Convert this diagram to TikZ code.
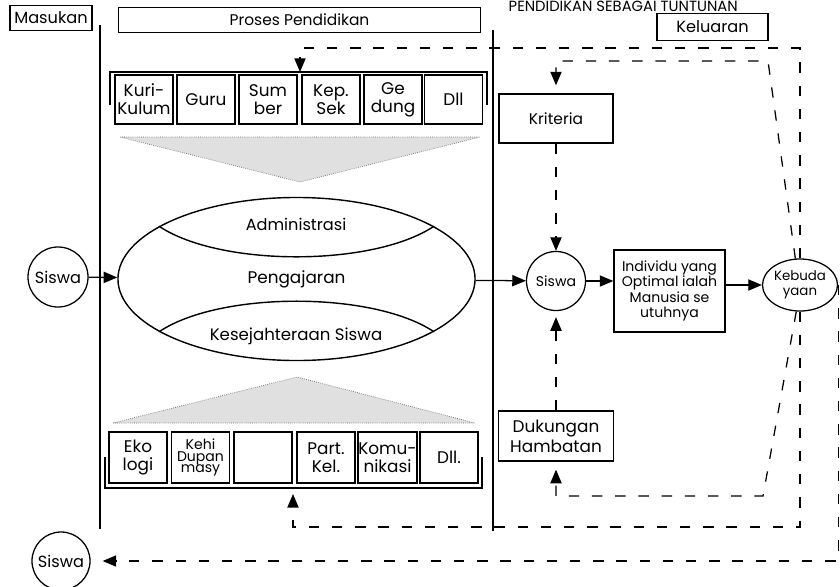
\documentclass[tikz,border=0pt]{standalone}
\usepackage{fontspec}
\setmainfont{Poppins}
\usetikzlibrary{arrows.meta,shapes.geometric}
\def\fs#1#2{\fontsize{#1}{#2}\selectfont}
\def\dsh{\draw[dsh,arr]}

\begin{document}
\begin{tikzpicture}[x=0.025cm,y=-0.025cm,
  kotak/.style={draw,line width=1.3pt,minimum width=1.45cm,minimum height=1.225cm,inner sep=0.5pt,align=center,font=\fs{12}{13}},
  lbl/.style={draw,line width=0.9pt,inner sep=1pt,align=center,font=\fs{11.5}{13.5}},
  bul/.style={circle,draw,line width=0.9pt,inner sep=0pt,minimum size=1.5cm,font=\fs{11.5}{13}},
  arr/.style={-{Triangle[length=3.4mm,width=2.8mm]}},
  dsh/.style={line width=0.9pt,dash pattern=on 2.6mm off 3.2mm},
  bayang/.style={fill=black!12,draw=black!60,densely dotted,line width=0.5pt}]
\useasboundingbox (0,0) rectangle (840,586);
\clip (0,0) rectangle (840,586);
\node[anchor=base east,inner sep=0pt,font=\fs{10.5}{12}] (judul) at (738,11) {PENDIDIKAN SEBAGAI TUNTUNAN};
\node[lbl,minimum width=2.05cm,minimum height=0.625cm] (masukan) at (51,18) {Masukan};
\node[lbl,minimum width=9.05cm,minimum height=0.625cm,font=\fs{11}{13}] (proses) at (299.5,20) {Proses Pendidikan};
\node[lbl,minimum width=2.775cm,minimum height=0.675cm] (keluaran) at (712.5,27) {Keluaran};
\draw[line width=1.3pt] (100,25) -- (100,529);
\draw[line width=1.3pt] (493,30) -- (493,531);
% komponen atas
\foreach \x/\t [count=\i] in {144/{Kuri-\\Kulum},206/Guru,268/{Sum\\ber},331/{Kep.\\Sek},393/{Ge\\dung},453.5/Dll}
  \node[kotak] (a\i) at (\x,99.5) {\t};
\draw[line width=1.2pt] (110,105) |- (487,72) -- (487,105);
\coordinate (atas) at (300,72);
\draw[bayang] (120,137) -- (480,137) -- (300,182) -- cycle;
% proses
\node[ellipse,draw,line width=1pt,minimum width=8.925cm,minimum height=4.075cm,inner sep=0pt,font=\fs{12}{14}] (ajar) at (296.5,279) {Pengajaran};
\draw[line width=1pt] (ajar.159) .. controls (220,267) and (373,267) .. (ajar.21);
\draw[line width=1pt] (ajar.201) .. controls (220,291) and (373,291) .. (ajar.339);
\node[font=\fs{11.5}{13}] (adm) at (296,224) {Administrasi};
\node[font=\fs{11.8}{13}] (kes) at (296,336) {Kesejahteraan Siswa};
% komponen bawah
\draw[bayang] (113,423) -- (475,423) -- (297,377) -- cycle;
\foreach \i/\x/\t in {1/138/{Eko\\logi},3/263/{},4/326/{Part.\\Kel.},5/387.5/{Komu-\\nikasi},6/449/Dll.}
  \node[kotak,minimum height=1.275cm] (b\i) at (\x,457.5) {\t};
\node[kotak,minimum height=1.275cm,font=\fs{10}{8.5}] (b2) at (200.5,457.5) {Kehi\\Dupan\\masy};
\draw[line width=1.2pt] (105,457) |- (482,488) -- (482,457);
\coordinate (bawah) at (293,488);
% keluaran
\node[bul] (siswa1) at (58,277) {Siswa};
\node[bul,minimum size=1.475cm,font=\fs{10}{12}] (siswa2) at (556,281) {Siswa};
\node[bul,minimum size=1.45cm] (siswa3) at (61,561) {Siswa};
\node[lbl,minimum width=2.85cm,minimum height=1.225cm,font=\fs{11}{13}] (kriteria) at (556,118.5) {Kriteria};
\node[lbl,minimum width=2.775cm,minimum height=2.05cm,font=\fs{10}{10.8}] (individu) at (669.5,291) {Individu yang\\Optimal ialah\\Manusia se\\utuhnya};
\node[ellipse,draw,line width=0.9pt,minimum width=1.875cm,minimum height=1.3cm,inner sep=0pt,align=center,font=\fs{9.5}{10.5}] (budaya) at (800,285) {Kebuda\\yaan};
\node[lbl,minimum width=2.875cm,minimum height=1.25cm,font=\fs{12}{14}] (dukungan) at (556,436) {Dukungan\\Hambatan};
\draw[arr,line width=0.9pt] (siswa1) -- (ajar);
\draw[arr,line width=0.9pt] (ajar) -- (siswa2);
\draw[arr,line width=0.9pt] (siswa2) -- (siswa2 -| individu.west);
\draw[arr,line width=0.9pt] (individu.east |- budaya) -- (budaya);
% umpan balik
\coordinate (k1) at (803,48);
\coordinate (k2) at (768,61);
\coordinate (k3) at (763,496);
\coordinate (k4) at (798,527);
\dsh (budaya.north) -- (budaya.north |- k1) -- (atas |- k1) -- (atas);
\dsh[shorten >=2mm] (budaya.100) -- (k2) -- (kriteria.north |- k2) -- (kriteria.north);
\dsh (kriteria) -- (siswa2);
\dsh[shorten >=1.5mm] (dukungan) -- (siswa2);
\dsh[shorten >=2mm] (budaya.262) -- (k3) -- (dukungan.south |- k3) -- (dukungan.south);
\dsh[shorten >=1.5mm] (budaya.south) -- (budaya.south |- k4) -- (bawah |- k4) -- (bawah);
\dsh[shorten >=3mm] (budaya.east) -- (budaya.east |- siswa3) -- (siswa3);
\end{tikzpicture}
\end{document}
